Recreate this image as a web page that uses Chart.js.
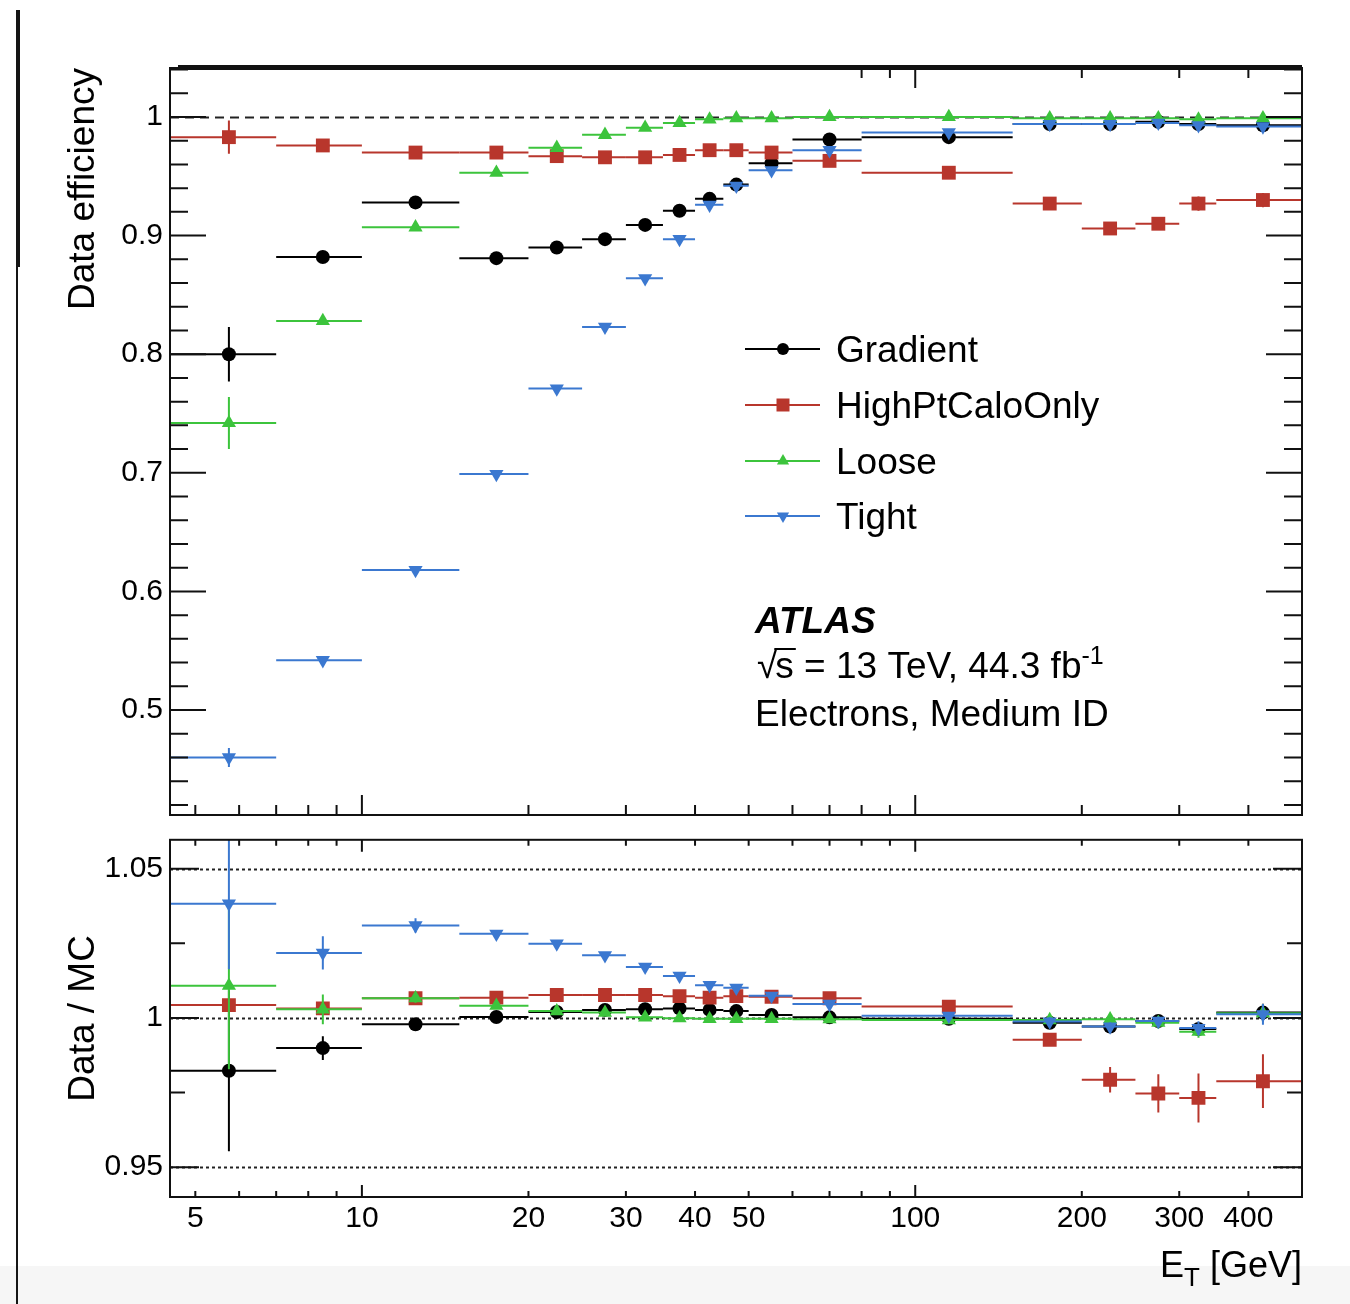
<!DOCTYPE html>
<html>
<head>
<meta charset="utf-8">
<title>Isolation efficiency</title>
<script src="https://cdn.jsdelivr.net/npm/chart.js@4.4.1/dist/chart.umd.min.js"></script>
<style>
  html, body { margin: 0; padding: 0; background: #fff; }
  #page { position: relative; width: 1350px; height: 1304px; overflow: hidden; }
  #effCanvas { position: absolute; left: 0; top: 0; }
  #ratioCanvas { position: absolute; left: 0; top: 830px; }
  .edge { position: absolute; background: #151515; }
  #strip { position: absolute; left: 0; top: 1266px; width: 1350px; height: 38px; background: #f6f6f6; }
</style>
</head>
<body>
<div id="page">
  <div id="strip"></div>
  <div class="edge" style="left:16px;top:10px;width:4px;height:257px"></div>
  <div class="edge" style="left:16px;top:267px;width:2px;height:1037px"></div>
  <canvas id="effCanvas" width="1350" height="830"></canvas>
  <canvas id="ratioCanvas" width="1350" height="474"></canvas>
</div>
<script>
// ET bins [GeV]
const binLow  = [4.5, 7, 10, 15, 20, 25, 30, 35, 40, 45, 50, 60, 80, 150, 200, 250, 300, 350];
const binHigh = [7, 10, 15, 20, 25, 30, 35, 40, 45, 50, 60, 80, 150, 200, 250, 300, 350, 500];

const seriesNames = ['Gradient', 'HighPtCaloOnly', 'Loose', 'Tight'];
const seriesColors = ['#000000', '#b8362c', '#3cc43c', '#3b78d0'];

// data efficiency
const effGradient = [0.800, 0.882, 0.928, 0.881, 0.890, 0.897, 0.909, 0.921, 0.931, 0.943, 0.961, 0.981, 0.983, 0.994, 0.994, 0.996, 0.994, 0.993];
const effHighPt   = [0.983, 0.976, 0.970, 0.970, 0.967, 0.966, 0.966, 0.968, 0.972, 0.972, 0.970, 0.963, 0.953, 0.927, 0.906, 0.910, 0.927, 0.930];
const effLoose    = [0.742, 0.828, 0.907, 0.953, 0.974, 0.985, 0.991, 0.995, 0.998, 0.999, 0.999, 1.000, 1.000, 0.999, 0.999, 0.999, 0.998, 0.999];
const effTight    = [0.460, 0.542, 0.618, 0.699, 0.771, 0.823, 0.864, 0.897, 0.926, 0.942, 0.955, 0.972, 0.987, 0.994, 0.994, 0.995, 0.993, 0.992];

const errGradient = [0.023, 0.003, 0.002, 0.002, 0.002, 0.002, 0.002, 0.002, 0.002, 0.002, 0.002, 0.002, 0.002, 0.002, 0.002, 0.002, 0.002, 0.002];
const errHighPt   = [0.014, 0.003, 0.002, 0.002, 0.002, 0.002, 0.002, 0.002, 0.002, 0.002, 0.002, 0.002, 0.003, 0.004, 0.005, 0.005, 0.006, 0.006];
const errLoose    = [0.022, 0.003, 0.002, 0.002, 0.002, 0.002, 0.002, 0.002, 0.002, 0.002, 0.002, 0.002, 0.002, 0.002, 0.002, 0.002, 0.002, 0.002];
const errTight    = [0.008, 0.003, 0.002, 0.002, 0.002, 0.002, 0.002, 0.002, 0.002, 0.002, 0.002, 0.002, 0.002, 0.002, 0.002, 0.002, 0.002, 0.002];

// data / MC
const ratioGradient = [0.9823, 0.9899, 0.9979, 1.0003, 1.0020, 1.0027, 1.0029, 1.0032, 1.0027, 1.0023, 1.0010, 1.0002, 0.9997, 0.9984, 0.9971, 0.9990, 0.9963, 1.0018];
const ratioHighPt   = [1.0043, 1.0032, 1.0066, 1.0068, 1.0077, 1.0077, 1.0077, 1.0073, 1.0068, 1.0073, 1.0071, 1.0066, 1.0038, 0.9927, 0.9793, 0.9747, 0.9732, 0.9788];
const ratioLoose    = [1.0108, 1.0029, 1.0066, 1.0041, 1.0023, 1.0018, 1.0002, 0.9999, 0.9997, 0.9997, 0.9997, 0.9996, 0.9993, 0.9993, 0.9996, 0.9984, 0.9954, 1.0016];
const ratioTight    = [1.0383, 1.0218, 1.0310, 1.0282, 1.0249, 1.0210, 1.0171, 1.0141, 1.0110, 1.0101, 1.0074, 1.0047, 1.0007, 0.9988, 0.9971, 0.9990, 0.9966, 1.0012];

const errRatioGradient = [0.027, 0.004, 0.0015, 0.001, 0.001, 0.001, 0.001, 0.001, 0.001, 0.001, 0.001, 0.001, 0.001, 0.0015, 0.0015, 0.0015, 0.002, 0.003];
const errRatioHighPt   = [0.002, 0.0015, 0.001, 0.001, 0.001, 0.001, 0.001, 0.001, 0.001, 0.001, 0.001, 0.001, 0.0015, 0.002, 0.0043, 0.0064, 0.0082, 0.009];
const errRatioLoose    = [0.028, 0.005, 0.0015, 0.001, 0.001, 0.001, 0.001, 0.001, 0.001, 0.001, 0.001, 0.001, 0.001, 0.0015, 0.0015, 0.002, 0.002, 0.003];
const errRatioTight    = [0.022, 0.0056, 0.0024, 0.001, 0.001, 0.001, 0.001, 0.001, 0.001, 0.001, 0.001, 0.001, 0.001, 0.0015, 0.0015, 0.0015, 0.0023, 0.0035];

// axis ticks
const xLabelTicks = [5, 10, 20, 30, 40, 50, 100, 200, 300, 400];
const xMajorTicks = [10, 100];
const xMinorTicks = [5, 6, 7, 8, 9, 20, 30, 40, 50, 60, 70, 80, 90, 200, 300, 400];
const effLabelTicks = [0.5, 0.6, 0.7, 0.8, 0.9, 1.0];
const ratioLabelTicks = [0.95, 1.0, 1.05];
const ratioMinorTicks = [0.975, 1.025];

const FONT = "'Liberation Sans', Arial, Helvetica, sans-serif";
Chart.defaults.font.family = FONT;
Chart.defaults.color = '#000';

const markerStyles = [
  { pointStyle: 'circle',   pointRadius: 7,   pointRotation: 0 },
  { pointStyle: 'rect',     pointRadius: 9.8, pointRotation: 0 },
  { pointStyle: 'triangle', pointRadius: 8.2, pointRotation: 0 },
  { pointStyle: 'triangle', pointRadius: 8.2, pointRotation: 180 }
];

function makeDatasets(values, errors) {
  // later series sit on top, like the graphs drawn one after another
  return values.map((vals, s) => Object.assign({
    label: seriesNames[s],
    data: vals.map((v, i) => ({
      x: (binLow[i] + binHigh[i]) / 2, y: v, lo: binLow[i], hi: binHigh[i], err: errors[s][i]
    })),
    showLine: false,
    borderColor: seriesColors[s],
    pointBackgroundColor: seriesColors[s],
    pointBorderWidth: 0,
    order: values.length - s
  }, markerStyles[s]));
}

// horizontal bin-width bar plus vertical error bar, drawn under each graph's markers
const errorBars = {
  id: 'errorBars',
  beforeDatasetDraw(chart, args) {
    const ds = chart.data.datasets[args.index];
    const { ctx, chartArea: a, scales: { x, y } } = chart;
    ctx.save();
    ctx.beginPath();
    ctx.rect(a.left, a.top, a.right - a.left, a.bottom - a.top);
    ctx.clip();
    ctx.strokeStyle = ds.borderColor;
    ctx.lineWidth = 2;
    ds.data.forEach(p => {
      const px = x.getPixelForValue(p.x);
      const py = y.getPixelForValue(p.y);
      ctx.beginPath();
      ctx.moveTo(x.getPixelForValue(p.lo), py);
      ctx.lineTo(x.getPixelForValue(p.hi), py);
      ctx.moveTo(px, y.getPixelForValue(p.y - p.err));
      ctx.lineTo(px, y.getPixelForValue(p.y + p.err));
      ctx.stroke();
    });
    ctx.restore();
  }
};

// ROOT style frame: inward ticks on all four sides and reference lines
const frame = {
  id: 'frame',
  beforeDatasetsDraw(chart, args, o) {
    const { ctx, chartArea: a, scales: { y } } = chart;
    ctx.save();
    ctx.strokeStyle = '#222';
    ctx.lineWidth = 2;
    ctx.setLineDash(o.dash);
    o.refLines.forEach(v => {
      const py = Math.round(y.getPixelForValue(v)) + 0.5;
      ctx.beginPath();
      ctx.moveTo(a.left, py);
      ctx.lineTo(a.right, py);
      ctx.stroke();
    });
    ctx.restore();
  },
  afterDatasetsDraw(chart, args, o) {
    const { ctx, chartArea: a, scales: { x, y } } = chart;
    ctx.save();
    ctx.strokeStyle = '#111';
    ctx.lineWidth = 2;
    ctx.beginPath();
    const yTick = (v, len) => {
      const py = y.getPixelForValue(v);
      ctx.moveTo(a.left, py); ctx.lineTo(a.left + len, py);
      ctx.moveTo(a.right, py); ctx.lineTo(a.right - len, py);
    };
    const xTick = (v, len) => {
      const px = x.getPixelForValue(v);
      ctx.moveTo(px, a.bottom); ctx.lineTo(px, a.bottom - len);
      if (v >= o.topTicksFrom) { ctx.moveTo(px, a.top); ctx.lineTo(px, a.top + len); }
    };
    o.yMajor.forEach(v => yTick(v, o.yMajorLen));
    o.yMinor.forEach(v => yTick(v, o.yMinorLen));
    xMajorTicks.forEach(v => xTick(v, o.xMajorLen));
    xMinorTicks.forEach(v => xTick(v, o.xMinorLen));
    ctx.stroke();
    ctx.strokeRect(a.left, a.top, a.right - a.left, a.bottom - a.top);
    if (o.heavyTop) {
      ctx.lineWidth = 5;
      ctx.beginPath();
      ctx.moveTo(a.left + 8, a.top - 0.5);
      ctx.lineTo(a.right, a.top - 0.5);
      ctx.stroke();
    }
    ctx.restore();
  }
};

function drawMarker(ctx, s, x, y, r, color) {
  ctx.fillStyle = color;
  ctx.beginPath();
  if (s === 0) ctx.arc(x, y, r, 0, Math.PI * 2);
  else if (s === 1) ctx.rect(x - r, y - r, 2 * r, 2 * r);
  else {
    const d = s === 2 ? 1 : -1;
    ctx.moveTo(x, y - d * r);
    ctx.lineTo(x + 0.87 * r, y + d * 0.5 * r);
    ctx.lineTo(x - 0.87 * r, y + d * 0.5 * r);
    ctx.closePath();
  }
  ctx.fill();
}

// legend and ATLAS label inside the efficiency panel
const panelText = {
  id: 'panelText',
  afterDraw(chart) {
    const ctx = chart.ctx;
    ctx.save();
    const rows = [349, 405, 461, 516];
    const sizes = [6, 6.5, 7, 7];
    rows.forEach((ry, s) => {
      ctx.strokeStyle = seriesColors[s];
      ctx.lineWidth = 2;
      ctx.beginPath();
      ctx.moveTo(745, ry); ctx.lineTo(820, ry);
      ctx.stroke();
      drawMarker(ctx, s, 783, ry, sizes[s], seriesColors[s]);
      ctx.fillStyle = '#000';
      ctx.font = '37px ' + FONT;
      ctx.textBaseline = 'alphabetic';
      ctx.fillText(seriesNames[s], 836, ry + 13);
    });

    ctx.fillStyle = '#000';
    ctx.font = 'italic bold 37px ' + FONT;
    ctx.fillText('ATLAS', 755, 633);

    ctx.font = '37px ' + FONT;
    let cx = 757;
    const base = 678;
    ctx.fillText('\u221A', cx, base);
    const rootW = ctx.measureText('\u221A').width;
    ctx.fillText('s', cx + rootW - 2, base);
    const sW = ctx.measureText('s').width;
    ctx.lineWidth = 2;
    ctx.strokeStyle = '#000';
    ctx.beginPath();
    ctx.moveTo(cx + rootW - 3, base - 29);
    ctx.lineTo(cx + rootW + sW, base - 29);
    ctx.stroke();
    cx += rootW + sW - 2;
    const rest = ' = 13 TeV, 44.3 fb';
    ctx.fillText(rest, cx, base);
    cx += ctx.measureText(rest).width;
    ctx.font = '25px ' + FONT;
    ctx.fillText('-1', cx, base - 14);

    ctx.font = '37px ' + FONT;
    ctx.fillText('Electrons, Medium ID', 755, 726);
    ctx.restore();
  }
};

// E_T [GeV] axis title with subscript
const xTitle = {
  id: 'xTitle',
  afterDraw(chart) {
    const ctx = chart.ctx;
    ctx.save();
    ctx.fillStyle = '#000';
    ctx.textBaseline = 'alphabetic';
    const big = '36px ' + FONT, small = '26px ' + FONT;
    ctx.font = big;
    const wE = ctx.measureText('E').width;
    const wRest = ctx.measureText(' [GeV]').width;
    ctx.font = small;
    const wT = ctx.measureText('T').width;
    const x0 = chart.chartArea.right - (wE + wT + wRest);
    const base = 447;
    ctx.font = big;
    ctx.fillText('E', x0, base);
    ctx.font = small;
    ctx.fillText('T', x0 + wE, base + 9);
    ctx.font = big;
    ctx.fillText(' [GeV]', x0 + wE + wT, base);
    ctx.restore();
  }
};

function minorRange(from, to, step, skip) {
  const out = [];
  for (let k = Math.round(from / step); k * step <= to + 1e-9; k++) {
    const v = +(k * step).toFixed(4);
    if (!skip.some(s => Math.abs(s - v) < 1e-9)) out.push(v);
  }
  return out;
}

// keep the plot frame exactly where the layout padding puts it
function fixWidth(w) {
  return scale => {
    scale.width = w;
    scale.paddingTop = 0;
    scale.paddingBottom = 0;
  };
}
function fixHeight(h) {
  return scale => {
    scale.height = h;
    scale.paddingLeft = 0;
    scale.paddingRight = 0;
  };
}

const xScaleBase = {
  type: 'logarithmic',
  min: 4.5,
  max: 500,
  grid: { display: false, drawTicks: false },
  border: { display: false }
};

new Chart(document.getElementById('effCanvas'), {
  type: 'scatter',
  data: { datasets: makeDatasets([effGradient, effHighPt, effLoose, effTight], [errGradient, errHighPt, errLoose, errTight]) },
  options: {
    responsive: false,
    animation: false,
    events: [],
    layout: { padding: { top: 68, right: 48, bottom: 15, left: 0 } },
    plugins: {
      legend: { display: false },
      tooltip: { enabled: false },
      frame: {
        refLines: [1], dash: [9, 6],
        yMajor: effLabelTicks, yMinor: minorRange(0.42, 1.04, 0.02, effLabelTicks),
        yMajorLen: 36, yMinorLen: 18, xMajorLen: 20, xMinorLen: 10,
        topTicksFrom: 80, heavyTop: true
      }
    },
    scales: {
      x: Object.assign({}, xScaleBase, { display: false, afterFit: fixHeight(0) }),
      y: {
        min: 0.4115,
        max: 1.0413,
        afterFit: fixWidth(170),
        afterBuildTicks(scale) { scale.ticks = effLabelTicks.map(v => ({ value: v })); },
        grid: { display: false, drawTicks: false },
        border: { display: false },
        ticks: {
          padding: 7,
          font: { size: 30 },
          callback: v => (v === 1 ? '1' : v.toFixed(1))
        },
        title: {
          display: true,
          text: 'Data efficiency',
          align: 'end',
          font: { size: 37 },
          padding: { top: 62, bottom: 0 }
        }
      }
    }
  },
  plugins: [errorBars, frame, panelText]
});

new Chart(document.getElementById('ratioCanvas'), {
  type: 'scatter',
  data: { datasets: makeDatasets([ratioGradient, ratioHighPt, ratioLoose, ratioTight], [errRatioGradient, errRatioHighPt, errRatioLoose, errRatioTight]) },
  options: {
    responsive: false,
    animation: false,
    events: [],
    layout: { padding: { top: 8, right: 48, bottom: 0, left: 0 } },
    plugins: {
      legend: { display: false },
      tooltip: { enabled: false },
      frame: {
        refLines: ratioLabelTicks, dash: [3, 3],
        yMajor: ratioLabelTicks, yMinor: ratioMinorTicks,
        yMajorLen: 29, yMinorLen: 15, xMajorLen: 12, xMinorLen: 6,
        topTicksFrom: 0, heavyTop: false
      }
    },
    scales: {
      x: Object.assign({}, xScaleBase, {
        afterFit: fixHeight(107),
        afterBuildTicks(scale) { scale.ticks = xLabelTicks.map(v => ({ value: v })); },
        ticks: {
          autoSkip: false,
          maxRotation: 0,
          padding: 4,
          font: { size: 30 },
          callback: v => String(v)
        }
      }),
      y: {
        min: 0.94,
        max: 1.0597,
        afterFit: fixWidth(170),
        afterBuildTicks(scale) { scale.ticks = ratioLabelTicks.map(v => ({ value: v })); },
        grid: { display: false, drawTicks: false },
        border: { display: false },
        ticks: {
          padding: 7,
          font: { size: 30 },
          callback: v => (v === 1 ? '1' : v.toFixed(2))
        },
        title: {
          display: true,
          text: 'Data / MC',
          font: { size: 37 },
          padding: { top: 62, bottom: 0 }
        }
      }
    }
  },
  plugins: [errorBars, frame, xTitle]
});
</script>
</body>
</html>
